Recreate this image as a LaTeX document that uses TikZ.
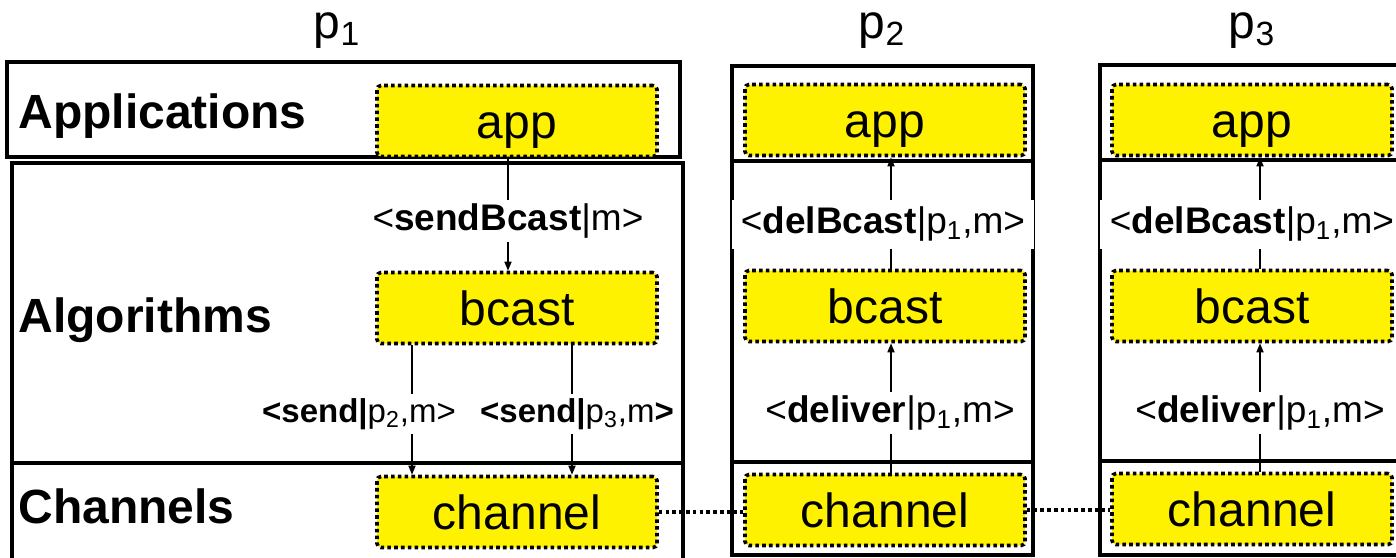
\documentclass[tikz,border=0pt]{standalone}
\usepackage{fontspec}
\setmainfont{Liberation Sans}
\usetikzlibrary{arrows.meta}
\begin{document}
\begin{tikzpicture}[x=0.5pt,y=-0.5pt,
  layerbox/.style={draw=black,line width=2pt},
  ybox/.style={draw=black,fill=yellow,line width=1.8pt,dash pattern=on 1.8pt off 1.6pt,
    rounded corners=2pt,minimum width=140pt,minimum height=35.5pt,inner sep=0pt,
    text height=17pt,text depth=0pt,
    font=\fontsize{24}{28}\selectfont},
  arr/.style={line width=0.8pt,-{Triangle[length=4.5pt,width=3.5pt]}},
  lbl/.style={fill=white,inner sep=2pt,font=\fontsize{18.5}{22}\selectfont},
  slbl/.style={fill=white,inner sep=2pt,font=\fontsize{16.5}{20}\selectfont},
  widelbl/.style={lbl,minimum width=151pt,minimum height=24.5pt,inner sep=0pt},
  layertxt/.style={anchor=base west,inner sep=0pt,font=\bfseries\fontsize{24}{28}\selectfont},
  ptxt/.style={anchor=base,inner sep=0pt,font=\fontsize{24}{28}\selectfont},
  chanlink/.style={line width=1.8pt,dash pattern=on 1.8pt off 1.6pt}
]
\useasboundingbox (0,0) rectangle (1396,557);
\clip (0,0) rectangle (1396,557);

% process labels
\node[ptxt] (p1) at (337,38) {p\textsubscript{1}};
\node[ptxt] (p2) at (882,38) {p\textsubscript{2}};
\node[ptxt] (p3) at (1252,38) {p\textsubscript{3}};

% p1 layer boxes
\draw[layerbox] (7,62) rectangle (680,157);
\draw[layerbox] (12,163) rectangle (683,463);
\draw[layerbox] (12,463) rectangle (683,600);

% p2 and p3 columns
\draw[layerbox] (732,66) rectangle (1033,555);
\draw[layerbox] (732,161) -- (1033,161);
\draw[layerbox] (732,462) -- (1033,462);
\draw[layerbox] (1100,65) rectangle (1404,555);
\draw[layerbox] (1100,160) -- (1404,160);
\draw[layerbox] (1100,461) -- (1404,461);

% layer names
\node[layertxt] (lapp) at (18,128) {Applications};
\node[layertxt] (lalg) at (18,332) {Algorithms};
\node[layertxt] (lchan) at (18,523) {Channels};

% yellow components
\node[ybox] (app1) at (517,121) {app};
\node[ybox] (bcast1) at (517,308) {bcast};
\node[ybox] (chan1) at (517,512) {channel};
\node[ybox] (app2) at (885,120) {app};
\node[ybox] (bcast2) at (885,306) {bcast};
\node[ybox] (chan2) at (885,510) {channel};
\node[ybox] (app3) at (1252,120) {app};
\node[ybox] (bcast3) at (1252,306) {bcast};
\node[ybox] (chan3) at (1252,509) {channel};

% arrow x positions
\coordinate (xa) at (508,0);
\coordinate (xb) at (412,0);
\coordinate (xc) at (572,0);
\coordinate (xd) at (891,0);
\coordinate (xe) at (1260,0);

\draw[arr] (app1.south -| xa) -- (bcast1.north -| xa);
\draw[arr] (bcast1.south -| xb) -- (chan1.north -| xb);
\draw[arr] (bcast1.south -| xc) -- (chan1.north -| xc);
\draw[arr] (chan2.north -| xd) -- (bcast2.south -| xd);
\draw[arr] (bcast2.north -| xd) -- (app2.south -| xd);
\draw[arr] (chan3.north -| xe) -- (bcast3.south -| xe);
\draw[arr] (bcast3.north -| xe) -- (app3.south -| xe);

% channel links
\draw[chanlink] (chan1.east) -- (chan1.east -| chan2.west);
\draw[chanlink] (chan2.east) -- (chan2.east -| chan3.west);

% event labels
\node[lbl] (l1) at (508,221) {<\textbf{sendBcast}|m>};
\node[slbl] (l2) at (359,414) {\textbf{<send|}p\textsubscript{2},m>};
\node[slbl] (l3) at (577,414) {\textbf{<send|}p\textsubscript{3},m\textbf{>}};
\node[widelbl] (l4) at (883,224) {<\textbf{delBcast}|p\textsubscript{1},m>};
\node[lbl] (l5) at (890,413) {<\textbf{deliver}|p\textsubscript{1},m>};
\node[widelbl,minimum width=152pt] (l6) at (1252,224) {<\textbf{delBcast}|p\textsubscript{1},m>};
\node[lbl] (l7) at (1260,413) {<\textbf{deliver}|p\textsubscript{1},m>};
\end{tikzpicture}
\end{document}
